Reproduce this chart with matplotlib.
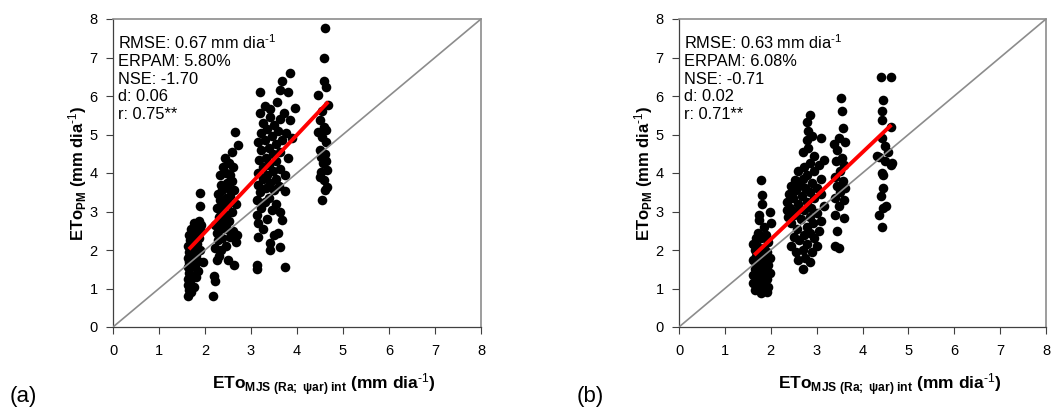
import matplotlib
matplotlib.use('Agg')
import matplotlib.pyplot as plt
import numpy as np

plt.rcParams['font.family'] = ['Liberation Sans', 'DejaVu Sans']
plt.rcParams['mathtext.fontset'] = 'custom'
plt.rcParams['mathtext.rm'] = 'Liberation Sans'
plt.rcParams['mathtext.bf'] = 'Liberation Sans:bold'
plt.rcParams['mathtext.it'] = 'Liberation Sans:italic'

# panel (a), one list per column of dots
a_x1 = [1.62, 1.65, 1.70, 1.63, 1.68, 1.75, 1.62, 1.72, 1.80, 1.66, 1.85, 1.62, 1.70, 1.78, 1.65, 1.85,
        1.62, 1.72, 1.80, 1.66, 1.75, 1.90, 1.63, 1.70, 1.82, 1.68, 1.78, 1.88, 1.65, 1.74, 1.85, 1.70,
        1.80, 1.90, 1.75, 1.87, 1.92, 1.89, 1.89, 1.95]
a_y1 = [0.80, 0.95, 0.92, 1.10, 1.15, 1.05, 1.25, 1.30, 1.30, 1.40, 1.45, 1.55, 1.55, 1.60, 1.70, 1.72,
        1.80, 1.85, 1.88, 1.95, 2.00, 2.00, 2.10, 2.15, 2.15, 2.25, 2.30, 2.30, 2.40, 2.45, 2.45, 2.55,
        2.60, 2.55, 2.70, 2.75, 2.65, 3.13, 3.48, 1.70]
a_x2 = [2.18, 2.22, 2.20, 2.25, 2.30, 2.51, 2.62, 2.35, 2.22, 2.45, 2.67, 2.28, 2.38, 2.55, 2.25, 2.33,
        2.48, 2.60, 2.22, 2.40, 2.52, 2.30, 2.45, 2.35, 2.58, 2.25, 2.40, 2.50, 2.32, 2.45, 2.55, 2.28,
        2.38, 2.50, 2.62, 2.35, 2.48, 2.58, 2.33, 2.45, 2.55, 2.40, 2.60, 2.52, 2.43, 2.58, 2.72, 2.65,
        2.70, 2.68]
a_y2 = [0.80, 1.20, 1.32, 1.75, 1.85, 1.75, 1.62, 2.00, 2.05, 2.10, 2.22, 2.25, 2.30, 2.35, 2.45, 2.55,
        2.55, 2.50, 2.65, 2.70, 2.75, 2.85, 2.90, 3.00, 3.00, 3.10, 3.15, 3.20, 3.30, 3.35, 3.40, 3.45,
        3.55, 3.60, 3.55, 3.70, 3.75, 3.80, 3.95, 4.00, 3.95, 4.15, 4.16, 4.25, 4.38, 4.55, 4.73, 5.07,
        2.40, 3.20]
a_x3 = [3.12, 3.12, 3.74, 3.41, 3.63, 3.41, 3.16, 3.49, 3.58, 3.25, 3.16, 3.67, 3.35, 3.14, 3.63, 3.45,
        3.22, 3.55, 3.30, 3.12, 3.40, 3.74, 3.20, 3.50, 3.32, 3.60, 3.15, 3.42, 3.25, 3.55, 3.74, 3.35,
        3.15, 3.48, 3.62, 3.25, 3.40, 3.55, 3.18, 3.81, 3.32, 3.48, 3.62, 3.22, 3.40, 3.55, 3.15, 3.30,
        3.68, 3.45, 3.77, 3.22, 3.58, 3.35, 3.50, 3.85, 3.25, 3.62, 3.42, 3.20, 3.72, 3.41, 3.56, 3.30,
        3.20, 3.81, 3.63, 3.67, 3.85, 3.90, 3.95]
a_y3 = [1.50, 1.62, 1.57, 2.00, 2.09, 2.17, 2.35, 2.39, 2.45, 2.55, 2.69, 2.78, 2.80, 2.92, 3.00, 3.05,
        3.10, 3.20, 3.25, 3.30, 3.35, 3.52, 3.50, 3.55, 3.60, 3.65, 3.70, 3.75, 3.85, 3.85, 3.95, 3.95,
        4.00, 4.05, 4.10, 4.15, 4.20, 4.30, 4.35, 4.38, 4.40, 4.50, 4.55, 4.60, 4.65, 4.75, 4.80, 4.85,
        4.85, 4.95, 5.03, 5.05, 5.10, 5.15, 5.25, 5.38, 5.30, 5.40, 5.45, 5.55, 5.55, 5.67, 5.85, 5.75,
        6.10, 6.11, 6.15, 6.40, 6.60, 4.90, 5.70]
a_x4 = [4.61, 4.59, 4.58, 4.64, 4.46, 4.68, 4.55, 4.50, 4.58, 4.64, 4.46, 4.55, 4.64, 4.50, 4.60, 4.52,
        4.62, 4.56, 4.65, 4.52, 4.50, 4.58, 4.65, 4.60, 4.55]
a_y4 = [7.76, 6.98, 6.38, 6.24, 6.03, 5.77, 5.60, 5.38, 5.20, 5.12, 5.07, 4.94, 4.80, 4.60, 4.50, 4.42,
        4.30, 4.25, 4.08, 4.03, 3.90, 3.82, 3.64, 3.55, 3.30]

# panel (b)
b_x1 = [1.78, 1.80, 1.80, 1.98, 1.75, 1.74, 2.00, 1.85, 1.72, 1.90, 1.78, 1.62, 1.95, 1.70, 1.85, 1.65,
        1.75, 1.92, 1.68, 1.82, 1.98, 1.62, 1.75, 1.88, 1.70, 1.95, 1.80, 1.65, 1.88, 1.72, 1.98, 1.62,
        1.82, 1.70, 1.92, 1.62, 1.78, 1.88, 1.68, 1.95, 1.75, 1.85, 1.65, 1.78, 1.92, 1.72, 1.85, 1.68]
b_y1 = [3.82, 3.43, 3.20, 3.00, 2.90, 2.78, 2.70, 2.60, 2.45, 2.40, 2.30, 2.15, 2.20, 2.10, 2.05, 2.00,
        1.95, 1.95, 1.85, 1.82, 1.80, 1.75, 1.70, 1.68, 1.60, 1.60, 1.55, 1.50, 1.45, 1.40, 1.40, 1.35,
        1.32, 1.25, 1.25, 1.15, 1.15, 1.10, 1.05, 1.05, 1.00, 0.95, 0.95, 0.88, 0.92, 1.50, 1.75, 2.30]
b_x2 = [2.71, 2.60, 2.75, 2.85, 2.55, 2.70, 2.90, 2.45, 2.80, 3.00, 2.62, 2.95, 2.50, 2.72, 2.85, 3.05,
        2.58, 2.78, 2.92, 2.45, 3.10, 2.65, 2.85, 2.38, 3.00, 2.55, 2.72, 2.42, 2.88, 3.15, 2.60, 2.35,
        2.78, 2.48, 2.95, 2.68, 2.40, 3.10, 2.85, 2.55, 2.75, 3.00, 2.45, 2.62, 2.90, 3.10, 2.52, 2.70,
        2.80, 2.59, 2.95, 2.72, 3.05, 2.85, 3.17, 2.70, 2.95, 2.82, 3.10, 2.78, 2.90, 2.82, 2.78, 2.85,
        2.35, 2.50]
b_y2 = [1.50, 1.75, 1.80, 1.70, 1.95, 2.00, 1.95, 2.10, 2.15, 2.10, 2.25, 2.30, 2.35, 2.40, 2.45, 2.50,
        2.55, 2.60, 2.70, 2.70, 2.75, 2.80, 2.85, 2.85, 2.95, 3.00, 3.05, 3.10, 3.10, 3.15, 3.20, 3.25,
        3.25, 3.35, 3.35, 3.40, 3.45, 3.45, 3.50, 3.55, 3.60, 3.60, 3.65, 3.70, 3.75, 3.85, 3.82, 3.85,
        3.95, 4.04, 4.05, 4.15, 4.20, 4.25, 4.33, 4.55, 4.45, 4.65, 4.90, 4.86, 4.95, 5.10, 5.33, 5.50,
        3.05, 2.90]
b_x3 = [3.54, 3.56, 3.58, 3.48, 3.62, 3.45, 3.55, 3.42, 3.60, 3.50, 3.40, 3.58, 3.45, 3.52, 3.40, 3.60,
        3.48, 3.41, 3.59, 3.45, 3.48, 3.40, 3.38, 3.62]
b_y3 = [5.94, 5.60, 5.16, 4.90, 4.80, 4.60, 4.40, 4.30, 4.20, 4.05, 3.90, 3.80, 3.65, 3.50, 3.35, 3.30,
        3.15, 2.90, 2.82, 2.50, 2.05, 2.10, 4.75, 3.60]
b_x4 = [4.41, 4.62, 4.45, 4.42, 4.42, 4.62, 4.42, 4.48, 4.37, 4.32, 4.50, 4.64, 4.62, 4.42, 4.45, 4.45,
        4.40, 4.52, 4.45, 4.35, 4.42, 4.55]
b_y4 = [6.50, 6.50, 5.90, 5.60, 5.37, 5.20, 4.90, 4.70, 4.42, 4.43, 4.30, 4.25, 4.20, 4.00, 3.95, 3.60,
        3.40, 3.13, 3.09, 2.91, 2.60, 4.55]

# regression line end points (x, y) as drawn in the reference
a_fit_x = [1.65, 4.68]
a_fit_y = [2.02, 5.85]
b_fit_x = [1.64, 4.63]
b_fit_y = [1.87, 5.25]

a_stats = ['RMSE: 0.67 mm dia$^{\\text{-1}}$', 'ERPAM: 5.80%', 'NSE: -1.70', 'd: 0.06', 'r: 0.75**']
b_stats = ['RMSE: 0.63 mm dia$^{\\text{-1}}$', 'ERPAM: 6.08%', 'NSE: -0.71', 'd: 0.02', 'r: 0.71**']

ticks = [0, 1, 2, 3, 4, 5, 6, 7, 8]

fig = plt.figure(figsize=(10.51, 4.07), dpi=100)
ax_a = fig.add_axes([113 / 1051, 80 / 407, 368 / 1051, 308 / 407])
ax_b = fig.add_axes([679 / 1051, 80 / 407, 367 / 1051, 308 / 407])

panels = [
    (ax_a, [a_x1, a_x2, a_x3, a_x4], [a_y1, a_y2, a_y3, a_y4], a_fit_x, a_fit_y, a_stats, '(a)', 10 / 1051),
    (ax_b, [b_x1, b_x2, b_x3, b_x4], [b_y1, b_y2, b_y3, b_y4], b_fit_x, b_fit_y, b_stats, '(b)', 577 / 1051),
]

for ax, xs, ys, fx, fy, stats, tag, tag_x in panels:
    x = np.concatenate(xs)
    y = np.concatenate(ys)
    ax.scatter(x, y, s=48, color='black', linewidths=0, zorder=2)
    # 1:1 line
    ax.plot([0, 8], [0, 8], color='#8c8c8c', lw=1.2, zorder=3)
    ax.plot(fx, fy, color='#ff0000', lw=2.8, zorder=4, solid_capstyle='butt')

    ax.set_xlim(0, 8)
    ax.set_ylim(0, 8)
    ax.set_xticks(ticks)
    ax.set_yticks(ticks)
    ax.tick_params(direction='out', length=5, width=0.8, labelsize=10.5,
                   colors='#404040', labelcolor='black')
    ax.tick_params(axis='x', pad=7)
    ax.tick_params(axis='y', pad=6)
    for s in ['top', 'right']:
        ax.spines[s].set_color('#8c8c8c')
        ax.spines[s].set_linewidth(1.2)
    for s in ['left', 'bottom']:
        ax.spines[s].set_color('#404040')
        ax.spines[s].set_linewidth(0.9)

    ax.text(0.013, 0.955, '\n'.join(stats), transform=ax.transAxes, fontsize=11.8,
            va='top', ha='left', linespacing=1.22)

    ax.set_ylabel('ETo$_{\\mathbf{PM}}$ (mm dia$^{\\mathbf{\\text{-1}}}$)', fontsize=12, fontweight='bold')
    ax.set_xlabel('ETo$_{\\mathbf{MJS\\ (Ra;\\ ψar)\\ int}}$ (mm dia$^{\\mathbf{\\text{-1}}}$)', fontsize=12.5,
                  fontweight='bold')
    ax.yaxis.set_label_coords(-0.065, 0.5)
    ax.xaxis.set_label_coords(0.574, -0.145)
    fig.text(tag_x, 0.0, tag, fontsize=16, ha='left', va='bottom')

fig.savefig('out.png', dpi=100)
